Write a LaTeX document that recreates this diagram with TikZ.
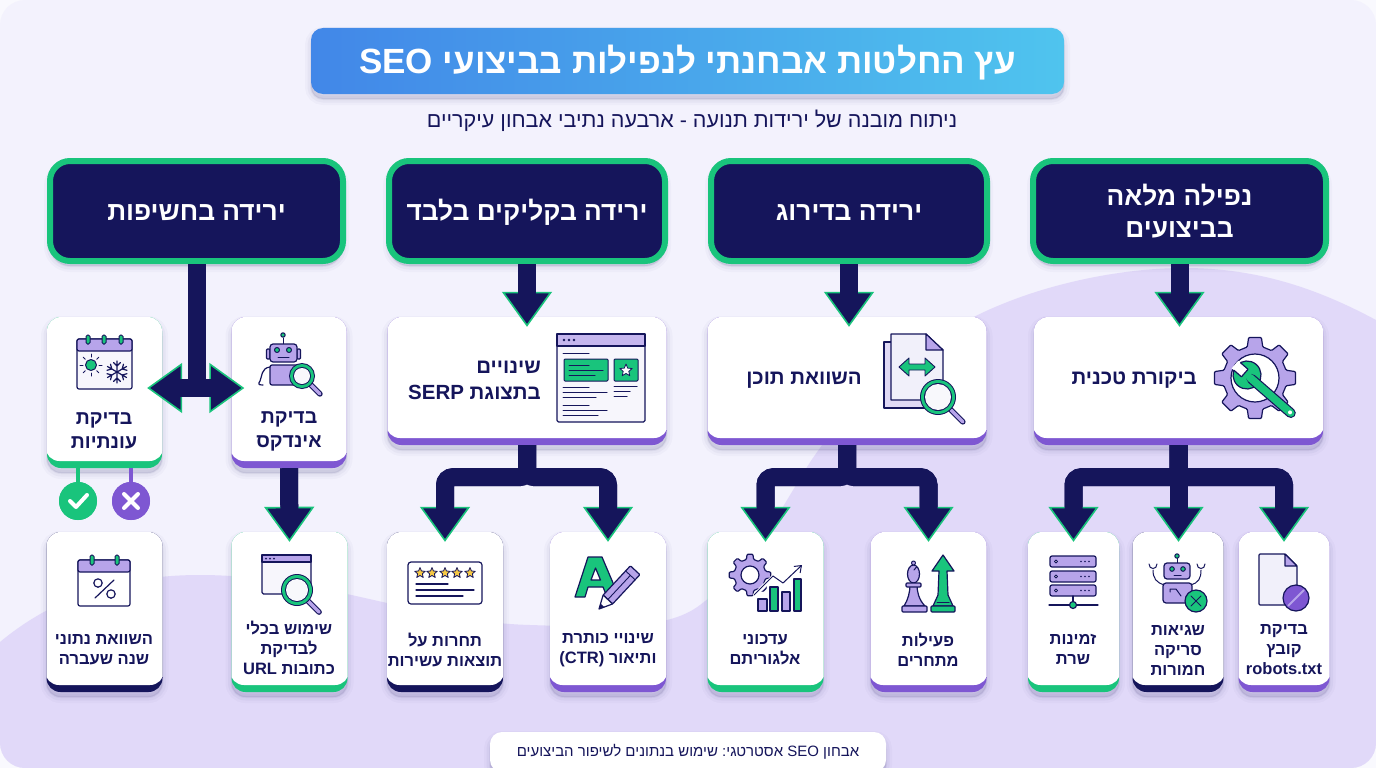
\documentclass[tikz,border=0pt]{standalone}
\usepackage{fontspec}
\setmainfont[Script=Hebrew]{Liberation Sans}
\TeXXeTstate=1
\frenchspacing
\usetikzlibrary{arrows.meta,shadows}
\definecolor{navy}{HTML}{15155B}
\definecolor{grn}{HTML}{19C47C}
\definecolor{pur}{HTML}{7E57D2}
\definecolor{lav}{HTML}{B7A4EA}
\definecolor{hill}{HTML}{E1D9F9}
\definecolor{pale}{HTML}{F1F0FA}
\definecolor{backg}{HTML}{F3F2FD}
\definecolor{gold}{HTML}{F6C945}
\definecolor{barleft}{HTML}{4287E8}
\definecolor{barright}{HTML}{4FC4EE}
\newcommand{\he}[1]{\beginR #1\endR}
\newcommand{\la}[1]{\beginL #1\endL}
\newcommand{\magglass}[3]{%
  \draw[navy,line width=5.6pt,line cap=round] (#1,#2) ++(45:#3) -- ++(45:{#3*.95});
  \draw[lav,line width=3.4pt,line cap=round] (#1,#2) ++(45:#3) -- ++(45:{#3*.95});
  \fill[navy] (#1,#2) circle (#3);
  \fill[grn] (#1,#2) circle ({#3-1});
  \fill[navy] (#1,#2) circle ({#3-4});
  \fill[pale!50!white] (#1,#2) circle ({#3-5});
}
\newcommand{\gearshape}[6]{%
  \filldraw[icn,fill=lav,rounded corners=1pt,shift={(#1,#2)}] (-#6:#3)
    \foreach \i in {0,...,#5}{ -- ({\i*360/(#5+1)-#6+5}:#4) -- ({\i*360/(#5+1)+#6-5}:#4) -- ({\i*360/(#5+1)+#6}:#3) -- ({(\i+1)*360/(#5+1)-#6}:#3)} -- cycle;
}
\newcommand{\starshape}[4]{%
  \filldraw[draw=navy,line width=.8pt,fill=#4,line join=round,shift={(#1,#2)}]
    (-90:#3) -- (-54:#3*.45) -- (-18:#3) -- (18:#3*.45) -- (54:#3) -- (90:#3*.45) -- (126:#3) -- (162:#3*.45) -- (198:#3) -- (234:#3*.45) -- cycle;
}
\tikzset{
  softshadow/.style={
    drop shadow={shadow xshift=0pt,shadow yshift=-5pt,opacity=.025,fill=navy,draw=navy,line width=12pt},
    drop shadow={shadow xshift=0pt,shadow yshift=-5pt,opacity=.035,fill=navy,draw=navy,line width=7pt},
    drop shadow={shadow xshift=0pt,shadow yshift=-5pt,opacity=.05,fill=navy,draw=navy,line width=2pt}
  },
  card/.style={
    rectangle,
    rounded corners=14pt,
    fill=#1,
    inner sep=0pt,
    softshadow,
    path picture={
      \fill[white,rounded corners=14pt]
        ([xshift=-1.5pt,yshift=7pt]path picture bounding box.south west) rectangle
        ([xshift=1.5pt,yshift=5pt]path picture bounding box.north east);
    }
  },
  bigcard/.style={card=#1,minimum width=279pt,minimum height=128pt},
  tallcard/.style={card=#1,minimum width=115pt,minimum height=151pt},
  lowcard/.style={card=#1,minimum width=116pt,minimum height=160pt},
  thincard/.style={card=#1,minimum width=91pt,minimum height=160pt},
  header/.style={
    rectangle,
    rounded corners=20pt,
    draw=grn,
    line width=6pt,
    fill=navy,
    text=white,
    align=center,
    minimum height=100pt,
    font=\bfseries\fontsize{26.3}{32}\selectfont,
    softshadow
  },
  oneline/.style={text height=19pt,text depth=0pt},
  midlabel/.style={text=navy,align=right,anchor=east,inner sep=0pt,font=\bfseries\fontsize{20.5}{26}\selectfont},
  talllabel/.style={text=navy,align=center,font=\bfseries\fontsize{19.5}{24}\selectfont},
  lowlabel/.style={text=navy,align=center,font=\bfseries\fontsize{16.5}{20}\selectfont},
  bigarrow/.style={
    draw=navy,
    line width=18pt,
    -{Triangle[length=35pt,width=50pt,fill=navy,color=grn,line width=1.6pt]},
    postaction={draw,-,shorten >=32pt}
  },
  shaft/.style={draw=navy,line width=18pt},
  icn/.style={draw=navy,line width=1.2pt,line join=round,line cap=round},
  tick/.style={draw=white,line width=4pt,line cap=round,line join=round},
  badge/.style={circle,minimum size=38pt,inner sep=0pt}
}
\begin{document}
\begin{tikzpicture}[x=1pt,y=-1pt]

  \useasboundingbox (0,0) rectangle (1376,768);
  \fill[white!50!backg] (0,0) rectangle (1376,768);
  \begin{scope}
    \clip[rounded corners=25pt] (0,0) rectangle (1376,768);
    \fill[backg] (0,0) rectangle (1376,768);
    \fill[hill] (0,642) .. controls (60,592) and (130,575) .. (200,575)
      .. controls (320,575) and (420,622) .. (530,625)
      .. controls (620,628) and (670,628) .. (700,605)
      .. controls (760,560) and (790,490) .. (815,455)
      .. controls (870,375) and (950,325) .. (1000,305)
      .. controls (1060,280) and (1130,268) .. (1184,268)
      .. controls (1260,268) and (1320,290) .. (1376,320)
      -- (1376,768) -- (0,768) -- cycle;
  \end{scope}

  \node (title) at (687.5,61) [rectangle,rounded corners=12pt,minimum width=753pt,minimum height=66pt,left color=barleft,right color=barright,softshadow,text=white,text height=26pt,text depth=0pt,font=\bfseries\fontsize{35}{40}\selectfont]
    {\he{עץ החלטות אבחנתי לנפילות בביצועי \la{SEO}}};
  \node (sub) at (692,121) [text=navy,font=\fontsize{21.5}{25}\selectfont]
    {\he{ניתוח מובנה של ירידות תנועה - ארבעה נתיבי אבחון עיקריים}};

  \node (h1) at (1179.5,211) [header,minimum width=293pt] {\he{נפילה מלאה}\\\he{בביצועים}};
  \node (h2) at (849,211) [header,oneline,minimum width=276pt] {\he{ירידה בדירוג}};
  \node (h3) at (527,211) [header,oneline,minimum width=276pt] {\he{ירידה בקליקים בלבד}};
  \node (h4) at (196.5,211) [header,oneline,minimum width=293pt] {\he{ירידה בחשיפות}};

  \node (m1) at (1178.5,381) [bigcard=pur,minimum width=289pt] {};
  \node (m2) at (847,381) [bigcard=pur] {};
  \node (m3) at (527,381) [bigcard=pur] {};
  \node (m41) at (104.5,392.5) [tallcard=grn] {};
  \node (m42) at (289,392.5) [tallcard=pur] {};

  \node (b11) at (1073.5,612) [thincard=grn] {};
  \node (b12) at (1178,612) [thincard=navy] {};
  \node (b13) at (1284,612) [thincard=pur] {};
  \node (b21) at (765.5,612) [lowcard=grn] {};
  \node (b22) at (928.5,612) [lowcard=pur] {};
  \node (b31) at (445,612) [lowcard=navy] {};
  \node (b32) at (608,612) [lowcard=pur] {};
  \node (b41) at (104.5,612) [lowcard=navy] {};
  \node (b42) at (289.5,612) [lowcard=grn] {};

  \node (foot) at (688,752) [rectangle,rounded corners=12pt,fill=white,minimum width=396pt,minimum height=40pt,softshadow,text=navy,font=\fontsize{15}{20}\selectfont]
    {\he{אבחון \la{SEO} אסטרטגי: שימוש בנתונים לשיפור הביצועים}};

  \node (l1) at (1197,380) [midlabel] {\he{ביקורת טכנית}};
  \node (l2) at (862,380) [midlabel] {\he{השוואת תוכן}};
  \node (l3) at (541,380) [midlabel] {\he{שינויים}\\\he{בתצוגת \la{SERP}}};
  \node (l41) at (104,431) [talllabel] {\he{בדיקת}\\\he{עונתיות}};
  \node (l42) at (289,431) [talllabel] {\he{בדיקת}\\\he{אינדקס}};

  \node (t11) at (1073,649) [lowlabel] {\he{זמינות}\\\he{שרת}};
  \node (t12) at (1178,650) [lowlabel] {\he{שגיאות}\\\he{סריקה}\\\he{חמורות}};
  \node (t13) at (1284,650) [lowlabel] {\he{בדיקת}\\\he{קובץ}\\robots.txt};
  \node (t21) at (765,650) [lowlabel] {\he{עדכוני}\\\he{אלגוריתם}};
  \node (t22) at (928,650) [lowlabel] {\he{פעילות}\\\he{מתחרים}};
  \node (t31) at (445,650) [lowlabel] {\he{תחרות על}\\\he{תוצאות עשירות}};
  \node (t32) at (608,650) [lowlabel] {\he{שינויי כותרת}\\\he{ותיאור \la{(CTR)}}};
  \node (t41) at (104,650) [lowlabel] {\he{השוואת נתוני}\\\he{שנה שעברה}};
  \node (t42) at (289,648) [lowlabel] {\he{שימוש בכלי}\\\he{לבדיקת}\\\he{כתובות \la{URL}}};

  % gear and wrench
  \gearshape{1255}{378}{32}{41}{7}{14}
  \fill[white] (1255,378) circle (24);
  \draw[icn] (1255,378) circle (24);
  \begin{scope}[shift={(1247,375)},rotate=-41]
    \fill[icn,fill=grn] (0,0) circle (14);
    \draw[navy,line width=10pt,line cap=round] (6,0) -- (58,0);
    \draw[grn,line width=7.6pt,line cap=round] (4,0) -- (58,0);
    \fill[white] (-16,-5) rectangle (-3,5);
    \draw[icn] (-13,-5) -- (-3,-5) -- (-3,5) -- (-13,5);
    \fill[white] (57,0) circle (2);
  \end{scope}

  % compared pages
  \filldraw[icn,fill=pale!70!lav] (891,342) -- (884,342) -- (884,408) -- (925,408) -- (925,400);
  \filldraw[icn,fill=pale] (891,334) -- (926,334) -- (943,350) -- (943,400) -- (891,400) -- cycle;
  \filldraw[icn,fill=lav] (926,334) -- (943,350) -- (926,350) -- cycle;
  \filldraw[icn,line width=.9pt,fill=grn] (899,367) -- (909,358) -- (909,364) -- (925,364) -- (925,358) -- (935,367) -- (925,376) -- (925,370) -- (909,370) -- (909,376) -- cycle;
  \magglass{938}{397}{18}

  % result page
  \filldraw[icn,fill=pale!60!white,rounded corners=1.5pt] (557,334) rectangle (645,422);
  \filldraw[icn,fill=lav!80!white] (557,334) rectangle (645,346);
  \foreach \x in {564,569,574} \fill[navy] (\x,340) circle (1.3);
  \filldraw[icn,line width=1pt,fill=grn,rounded corners=1pt] (564,359) rectangle (608,381);
  \filldraw[icn,line width=1pt,fill=grn,rounded corners=1pt] (614,359) rectangle (638,381);
  \starshape{626}{370.5}{6.5}{white}
  \draw[icn,line width=1pt] (563,353) -- (589,353) (569,365) -- (589,365) (569,370) -- (603,370) (569,375) -- (595,375)
    (563,387) -- (589,387) (563,392) -- (607,392) (563,397) -- (596,397)
    (563,405) -- (589,405) (563,410) -- (607,410) (563,415) -- (598,415)
    (614,386) -- (637,386) (614,391) -- (630,391) (614,396) -- (627,396);

  % calendar with seasons
  \filldraw[icn,fill=pale!60!white,rounded corners=2pt] (77,339) rectangle (132,389);
  \filldraw[icn,fill=lav,rounded corners=2pt] (77,339) rectangle (132,351);
  \foreach \x in {88,104,121} \filldraw[icn,line width=1pt,fill=grn,rounded corners=1.5pt] (\x-2,335) rectangle (\x+2,344);
  \filldraw[icn,line width=1pt,fill=grn] (91,365) circle (5.5);
  \foreach \a in {0,45,...,315} \draw[icn,line width=1pt] (91,365) ++(\a:8) -- ++(\a:3);
  \foreach \a in {0,60,...,300} \draw[icn,rotate around={\a:(117,372)}] (117,372) -- (117,361) (113.5,362.5) -- (117,366) -- (120.5,362.5);

  % index robot
  \filldraw[icn,fill=lav,line width=1pt] (283,344) -- (283,338);
  \filldraw[icn,line width=1pt,fill=grn] (283,335) circle (2.2);
  \filldraw[icn,fill=lav,rounded corners=1pt] (266.5,349) rectangle (270,359) (297,349) rectangle (300.5,359);
  \filldraw[icn,fill=lav,rounded corners=3pt] (270,344) rectangle (297,362);
  \filldraw[icn,line width=1pt,fill=grn] (277,350) circle (2.5) (289,350) circle (2.5);
  \draw[icn,line width=1pt] (278,357) -- (289,357);
  \filldraw[icn,fill=lav,rounded corners=2pt] (270,365) rectangle (300,385);
  \draw[icn] (270,367) .. controls (261,368) and (262,377) .. (260,381) .. controls (258,384) and (258,385) .. (263,385);
  \magglass{302}{376}{13}

  % calendar with percent
  \filldraw[icn,fill=white,rounded corners=2pt] (78,560) rectangle (130,606);
  \filldraw[icn,fill=lav,rounded corners=2pt] (78,560) rectangle (130,572);
  \foreach \x in {92,117} \filldraw[icn,line width=1pt,fill=grn,rounded corners=1.5pt] (\x-2,555) rectangle (\x+2,565);
  \draw[icn] (98,583) circle (4.2) (111,594) circle (4.2) (95,598) -- (114,580);

  % url window
  \filldraw[icn,fill=pale!60!white,rounded corners=1.5pt] (262,555) rectangle (311,594);
  \filldraw[icn,fill=lav] (262,555) rectangle (311,562);
  \foreach \x in {266,270,274} \fill[navy] (\x,558.5) circle (1);
  \magglass{297}{590}{16}

  % rating card
  \filldraw[icn,fill=white,rounded corners=3pt] (408,562) rectangle (482,604);
  \foreach \x in {420,432,445,457,470} \starshape{\x}{573}{5.5}{gold};
  \draw[icn] (416,584) -- (448,584) (416,590) -- (474,590) (416,596) -- (463,596);

  % letter and pencil
  \filldraw[icn,fill=grn,even odd rule] (588,557) -- (602,557) -- (619,597) -- (607,597) -- (603,587) -- (588,587) -- (585,597) -- (575,597) -- cycle
    (595.5,568) -- (600.5,580) -- (591,580) -- cycle;
  \begin{scope}[shift={(599,609)},rotate=47]
    \filldraw[icn,fill=lav,rounded corners=1pt] (13,-6.5) rectangle (53,6.5);
    \filldraw[icn,fill=white] (0,0) -- (13,-6.5) -- (13,6.5) -- cycle;
    \fill[navy] (0,0) -- (5,-2.5) -- (5,2.5) -- cycle;
    \draw[icn,line width=.9pt] (13,0) -- (46,0) (46,-6.5) -- (46,6.5);
  \end{scope}

  % gear and chart
  \gearshape{750}{575}{16}{21}{7}{13}
  \filldraw[icn,fill=white] (750,575) circle (9);
  \draw[white,line width=4pt] (754,596) -- (773,577) -- (783,584) -- (800,567);
  \draw[icn,line width=1pt,-{Straight Barb[length=6pt,width=9pt]}] (754,595) -- (773,576) -- (783,583) -- (802,565);
  \filldraw[icn,fill=lav] (758,599) rectangle (767,611);
  \filldraw[icn,fill=grn] (770,587) rectangle (778,611);
  \filldraw[icn,fill=lav] (782,592) rectangle (790,611);
  \filldraw[icn,fill=grn] (794,579) rectangle (801,611);

  % chess pieces
  \filldraw[icn,fill=lav] (904,606) .. controls (908,600) and (910,592) .. (910,585) -- (917,585) .. controls (917,592) and (919,600) .. (925,606) -- cycle;
  \filldraw[icn,fill=lav,rounded corners=1pt] (902,606) rectangle (927,612);
  \filldraw[icn,fill=lav] (913.5,574) ellipse (6 and 9);
  \filldraw[icn,fill=lav,line width=1pt] (913.5,563) circle (2);
  \filldraw[icn,fill=lav,rounded corners=1pt] (906,583) rectangle (921,587);
  \draw[icn,line width=1pt] (914,570) -- (916.5,567);
  \filldraw[icn,fill=grn] (943,555) -- (954,571) -- (947,571) -- (948,595) -- (953,606) -- (933,606) -- (938,595) -- (939,571) -- (932,571) -- cycle;
  \filldraw[icn,fill=grn,rounded corners=1pt] (931,606) rectangle (955,612);
  \draw[icn,line width=1pt] (937,602) -- (949,602);

  % server rack
  \foreach \y in {556,571,585} {
    \filldraw[icn,fill=lav,rounded corners=2pt] (1050,\y) rectangle (1096,\y+11);
    \draw[icn,fill=white,line width=1pt] (1056,\y+5.5) circle (1.5);
    \foreach \x in {1081,1085,1089} \fill[navy] (\x,\y+5.5) circle (.9);
  }
  \draw[icn] (1073,596) -- (1073,605) (1049,605) -- (1098,605);
  \filldraw[icn,fill=grn] (1073,605) circle (3.5);

  % crawl robot
  \draw[icn,line width=1pt] (1177,563) -- (1177,558);
  \filldraw[icn,line width=1pt,fill=grn] (1177,556) circle (2.2);
  \draw[icn,line width=1pt] (1165,585) .. controls (1156,583) and (1153,578) .. (1153,570) (1149,564) .. controls (1149,570) and (1157,570) .. (1157,564)
    (1190,585) .. controls (1199,583) and (1201,578) .. (1201,570) (1197,564) .. controls (1197,570) and (1205,570) .. (1205,564);
  \filldraw[icn,fill=lav,rounded corners=3pt] (1164,563) rectangle (1190,579);
  \filldraw[icn,line width=1pt,fill=grn] (1172,569) circle (2.3) (1183,569) circle (2.3);
  \draw[icn,line width=1pt] (1174,575) -- (1181,575);
  \filldraw[icn,fill=lav,rounded corners=3pt] (1163,583) rectangle (1192,603);
  \draw[icn,line width=1pt] (1170,592) -- (1170,589) -- (1176,589) -- (1181,596);
  \filldraw[icn,fill=grn] (1196,601) circle (11);
  \draw[icn,line width=1pt] (1191,596) -- (1201,606) (1201,596) -- (1191,606);

  % blocked file
  \filldraw[icn,fill=pale,rounded corners=1pt] (1285,554) -- (1259,554) -- (1259,605) -- (1297,605) -- (1297,566) -- cycle;
  \filldraw[icn,fill=lav] (1285,554) -- (1297,566) -- (1285,566) -- cycle;
  \filldraw[icn,fill=pur] (1296,598) circle (13);
  \draw[lav,line width=2pt] (1288,606) -- (1304,590);

  % connectors
  \draw[bigarrow] (h1.south) -- ([yshift=-10pt]h1.south |- m1.north);
  \draw[bigarrow] (h2.south) -- ([yshift=-10pt]h2.south |- m2.north);
  \draw[bigarrow] (h3.south) -- ([yshift=-10pt]m3.north);

  \draw[bigarrow] (m1.south) -- ([yshift=-10pt]m1.south |- b12.north);
  \draw[bigarrow,rounded corners=8pt] (m1.south) -- ++(0,32) -| ([yshift=-10pt]b11.north);
  \draw[bigarrow,rounded corners=8pt] (m1.south) -- ++(0,32) -| ([yshift=-10pt]b13.north);
  \draw[bigarrow,rounded corners=8pt] (m2.south) -- ++(0,32) -| ([yshift=-10pt]b21.north);
  \draw[bigarrow,rounded corners=8pt] (m2.south) -- ++(0,32) -| ([yshift=-10pt]b22.north);
  \draw[bigarrow,rounded corners=8pt] (m3.south) -- ++(0,32) -| ([yshift=-10pt]b31.north);
  \draw[bigarrow,rounded corners=8pt] (m3.south) -- ++(0,32) -| ([yshift=-10pt]b32.north);
  \draw[bigarrow] (m42.south) -- ([yshift=-10pt]b42.north);

  \coordinate (j4) at (196.5,388);
  \draw[shaft] (h4.south) -- (j4);
  \draw[bigarrow] (j4) -- ([xshift=-15pt]j4 -| m41.east);
  \draw[bigarrow] (j4) -- ([xshift=13pt]j4 -| m42.west);

  % seasonal outcomes
  \node (yes) at (78,501) [badge,fill=grn] {};
  \node (no) at (131,501) [badge,fill=pur] {};
  \draw[grn,line width=4pt] (yes.north |- m41.south) -- (yes);
  \draw[pur,line width=4pt] (no.north |- m41.south) -- (no);
  \fill[grn] (78,501) circle (19);
  \fill[pur] (131,501) circle (19);
  \draw[tick] (70,501) -- (76,507) -- (87,495);
  \draw[tick] (124,494) -- (138,508) (138,494) -- (124,508);

\end{tikzpicture}
\end{document}
